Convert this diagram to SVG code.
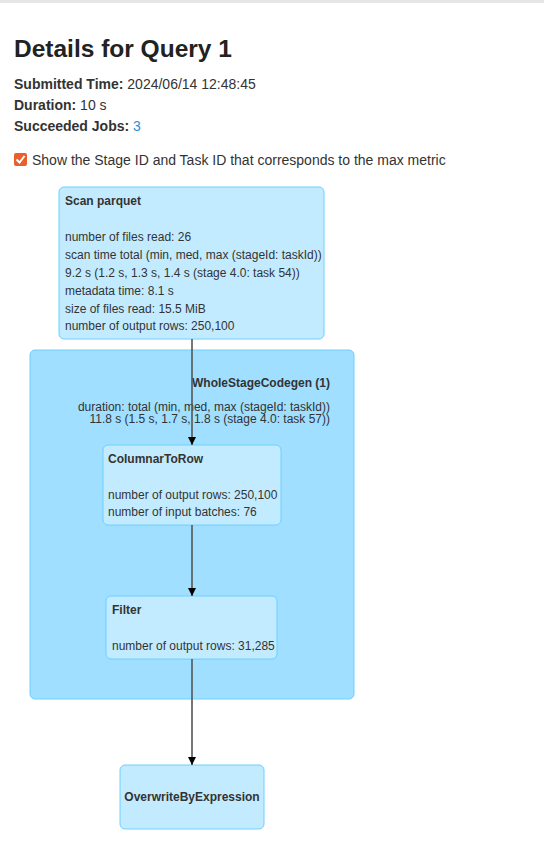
<svg xmlns="http://www.w3.org/2000/svg" width="544" height="845" viewBox="0 0 544 845">
<defs>
<style>
text{font-family:"Liberation Sans",Arial,sans-serif;fill:#333;}
.h{font-size:24.5px;font-weight:bold;fill:#222;}
.p{font-size:14px;}
.b{font-weight:bold;}
.t{font-size:12px;font-weight:bold;}
.m{font-size:12px;}
.node{fill:#c3ebff;stroke:#6dd0ff;stroke-width:1;}
.cluster{fill:#a0dfff;stroke:#6dd0ff;stroke-width:1;}
.edge{stroke:#555;stroke-width:1.6;fill:none;}
</style>
<marker id="arr" viewBox="0 0 10 10" refX="10" refY="5" markerWidth="8" markerHeight="8" markerUnits="userSpaceOnUse" orient="auto">
<path d="M0,0 L10,5 L0,10 z" fill="#000"/>
</marker>
</defs>
<rect x="0" y="0" width="544" height="845" fill="#fff"/>
<rect x="0" y="0" width="544" height="3" fill="#e6e6e6"/>
<g id="header">
<text class="h" x="14" y="57">Details for Query 1</text>
<text class="p" x="14" y="89"><tspan class="b">Submitted Time:</tspan> 2024/06/14 12:48:45</text>
<text class="p" x="14" y="110"><tspan class="b">Duration:</tspan> 10 s</text>
<text class="p" x="14" y="131"><tspan class="b">Succeeded Jobs:</tspan> <tspan style="fill:#2a8fd6">3</tspan></text>
<rect x="14" y="153" width="13" height="13" rx="2" fill="#e8612c"/>
<path d="M16.5,159.5 L19.5,162.5 L24.5,156" stroke="#fff" stroke-width="2" fill="none"/>
<text class="p" x="32" y="165">Show the Stage ID and Task ID that corresponds to the max metric</text>
</g>
<g id="cluster-wsc">
<rect class="cluster" x="30" y="350" width="324" height="349" rx="5"/>
<text class="t" x="330" y="387" text-anchor="end">WholeStageCodegen (1)</text>
<text class="m" x="330" y="411" text-anchor="end">duration: total (min, med, max (stageId: taskId))</text>
<text class="m" x="330" y="423" text-anchor="end">11.8 s (1.5 s, 1.7 s, 1.8 s (stage 4.0: task 57))</text>
</g>
<g id="node-scan">
<rect class="node" x="59" y="187" width="265" height="152" rx="5"/>
<text class="t" x="65" y="205">Scan parquet</text>
<text class="m" x="65" y="241">number of files read: 26</text>
<text class="m" x="65" y="259">scan time total (min, med, max (stageId: taskId))</text>
<text class="m" x="65" y="277">9.2 s (1.2 s, 1.3 s, 1.4 s (stage 4.0: task 54))</text>
<text class="m" x="65" y="295">metadata time: 8.1 s</text>
<text class="m" x="65" y="313">size of files read: 15.5 MiB</text>
<text class="m" x="65" y="330">number of output rows: 250,100</text>
</g>
<g id="node-c2r">
<rect class="node" x="103" y="445" width="178" height="80" rx="5"/>
<text class="t" x="108" y="463">ColumnarToRow</text>
<text class="m" x="108" y="499">number of output rows: 250,100</text>
<text class="m" x="108" y="516">number of input batches: 76</text>
</g>
<g id="node-filter">
<rect class="node" x="106" y="596" width="171" height="63" rx="5"/>
<text class="t" x="112" y="614">Filter</text>
<text class="m" x="112" y="650">number of output rows: 31,285</text>
</g>
<g id="node-overwrite">
<rect class="node" x="120" y="765" width="144" height="64" rx="5"/>
<text class="t" x="192" y="801" text-anchor="middle">OverwriteByExpression</text>
</g>
<g id="edges">
<line class="edge" x1="192" y1="339" x2="192" y2="445" marker-end="url(#arr)"/>
<line class="edge" x1="192" y1="525" x2="192" y2="596" marker-end="url(#arr)"/>
<line class="edge" x1="192" y1="659" x2="192" y2="765" marker-end="url(#arr)"/>
</g>
</svg>
